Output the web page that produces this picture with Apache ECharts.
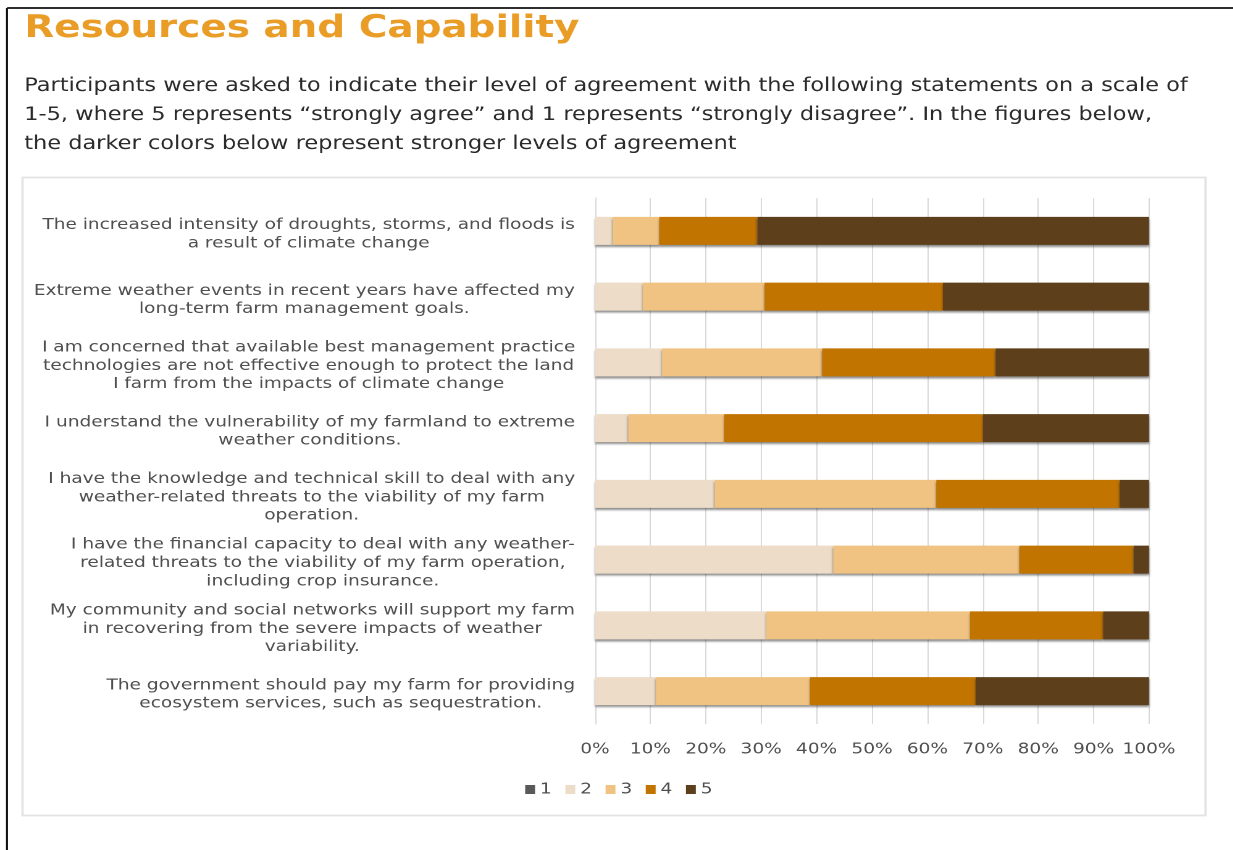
<!DOCTYPE html>
<html>
<head>
<meta charset="utf-8">
<script src="https://cdn.jsdelivr.net/npm/echarts@6/dist/echarts.min.js"></script>
<style>
html,body{margin:0;padding:0;background:#fff;overflow:hidden;}
#wrap{width:1233px;height:850px;overflow:hidden;position:relative;}
#chart{height:850px;transform-origin:0 0;position:absolute;left:0;top:0;}
</style>
</head>
<body>
<div id="wrap"><div id="chart"></div></div>
<script>
const categories = [
  "The increased intensity of droughts, storms, and floods is\na result of climate change",
  "Extreme weather events in recent years have affected my\nlong-term farm management goals.",
  "I am concerned that available best management practice\ntechnologies are not effective enough to protect the land\nI farm from the impacts of climate change",
  "I understand the vulnerability of my farmland to extreme\nweather conditions.",
  "I have the knowledge and technical skill to deal with any\nweather-related threats to the viability of my farm\noperation.",
  "I have the financial capacity to deal with any weather-\nrelated threats to the viability of my farm operation,\nincluding crop insurance.",
  "My community and social networks will support my farm\nin recovering from the severe impacts of weather\nvariability.",
  "The government should pay my farm for providing\necosystem services, such as sequestration."
];
const seriesNames = ["1", "2", "3", "4", "5"];
const level1 = [0, 0, 0, 0, 0, 0, 0, 0];
const level2 = [3.2, 8.6, 12.1, 6.0, 21.6, 43.0, 30.9, 11.0];
const level3 = [8.4, 22.0, 28.9, 17.3, 40.0, 33.6, 36.8, 27.8];
const level4 = [17.7, 32.2, 31.3, 46.7, 33.1, 20.6, 24.0, 29.9];
const level5 = [70.7, 37.2, 27.7, 30.0, 5.3, 2.8, 8.3, 31.3];
const xTicks = [0, 10, 20, 30, 40, 50, 60, 70, 80, 90, 100];

const colors = ["#595959", "#EDDDC8", "#F0C383", "#C17400", "#5E3F1B"];
const LABEL_FONT = 'DejaVu Sans';
const LABEL_SIZE = 15;
const LABEL_COLOR = '#4f4f4f';

// The reference picture is horizontally stretched; render narrower and stretch the whole chart.
const S = 1.235;
const W = 1233 / S;
function px(x) { return x / S; }
const el = document.getElementById('chart');
el.style.width = W + 'px';
el.style.transform = 'scaleX(' + S + ')';

// measure each label's widest line so lines can be centred within a right-aligned block
const cvs = document.createElement('canvas');
const ctx = cvs.getContext('2d');
ctx.font = LABEL_SIZE + 'px "' + LABEL_FONT + '"';
const rich = {};
categories.forEach(function (c, i) {
  const w = Math.max.apply(null, c.split('\n').map(function (l) { return ctx.measureText(l).width; }));
  rich['l' + i] = { width: Math.ceil(w) + 1, align: 'center', fontFamily: LABEL_FONT, fontSize: LABEL_SIZE, color: LABEL_COLOR, lineHeight: 18.3 };
});

const levels = [level1, level2, level3, level4, level5];
const chart = echarts.init(el, null, { renderer: 'canvas', devicePixelRatio: 2, width: W, height: 850 });
const option = {
  animation: false,
  backgroundColor: '#ffffff',
  title: [
    {
      text: 'Resources and Capability',
      left: px(18), top: 8,
      textStyle: { fontFamily: 'DejaVu Sans', fontWeight: 'bold', fontSize: 31.5, color: '#E99D27' }
    },
    {
      text: 'Participants were asked to indicate their level of agreement with the following statements on a scale of\n1-5, where 5 represents \u201cstrongly agree\u201d and 1 represents \u201cstrongly disagree\u201d. In the figures below,\nthe darker colors below represent stronger levels of agreement',
      left: px(18), top: 67,
      textStyle: { fontFamily: 'DejaVu Sans', fontWeight: 'normal', fontSize: 18.2, lineHeight: 29, color: '#2a2a2a' }
    }
  ],
  graphic: [
    { type: 'line', shape: { x1: px(7), y1: 8, x2: W, y2: 8 }, style: { stroke: '#111', lineWidth: 1.8 } },
    { type: 'line', shape: { x1: px(7), y1: 8, x2: px(7), y2: 850 }, style: { stroke: '#111', lineWidth: 1.6 } },
    { type: 'rect', shape: { x: px(22.5), y: 177.5, width: px(1183), height: 638 }, style: { fill: 'none', stroke: '#e3e3e3', lineWidth: 1.8 } }
  ],
  legend: {
    data: seriesNames,
    left: px(519), top: 777,
    itemWidth: 8, itemHeight: 9, itemGap: 11,
    icon: 'rect',
    textStyle: { fontFamily: LABEL_FONT, fontSize: 15, color: LABEL_COLOR, padding: [0, 0, 0, -1] }
  },
  grid: { left: px(595), right: px(1233 - 1149), top: 198, bottom: 126, containLabel: false },
  xAxis: {
    type: 'value', min: 0, max: 100, interval: 10,
    axisLabel: { formatter: '{value}%', fontFamily: LABEL_FONT, fontSize: 15, color: LABEL_COLOR, margin: 18 },
    axisLine: { show: false }, axisTick: { show: false },
    splitLine: { lineStyle: { color: '#d9d9d9', width: 1 } }
  },
  yAxis: {
    type: 'category', data: categories, inverse: true,
    axisTick: { show: false },
    axisLine: { show: true, lineStyle: { color: '#d9d9d9' } },
    axisLabel: {
      margin: px(19),
      align: 'right',
      padding: [7, 0, 0, 0],
      formatter: function (value, idx) {
        return value.split('\n').map(function (l) { return '{l' + idx + '|' + l + '}'; }).join('\n');
      },
      rich: rich
    }
  },
  series: seriesNames.map(function (n, i) {
    return {
      name: n, type: 'bar', stack: 'total', barWidth: 28,
      data: levels[i],
      itemStyle: { color: colors[i], shadowColor: 'rgba(0,0,0,0.45)', shadowBlur: 2, shadowOffsetY: 2 },
      emphasis: { disabled: true }
    };
  })
};
chart.setOption(option);
</script>
</body>
</html>
